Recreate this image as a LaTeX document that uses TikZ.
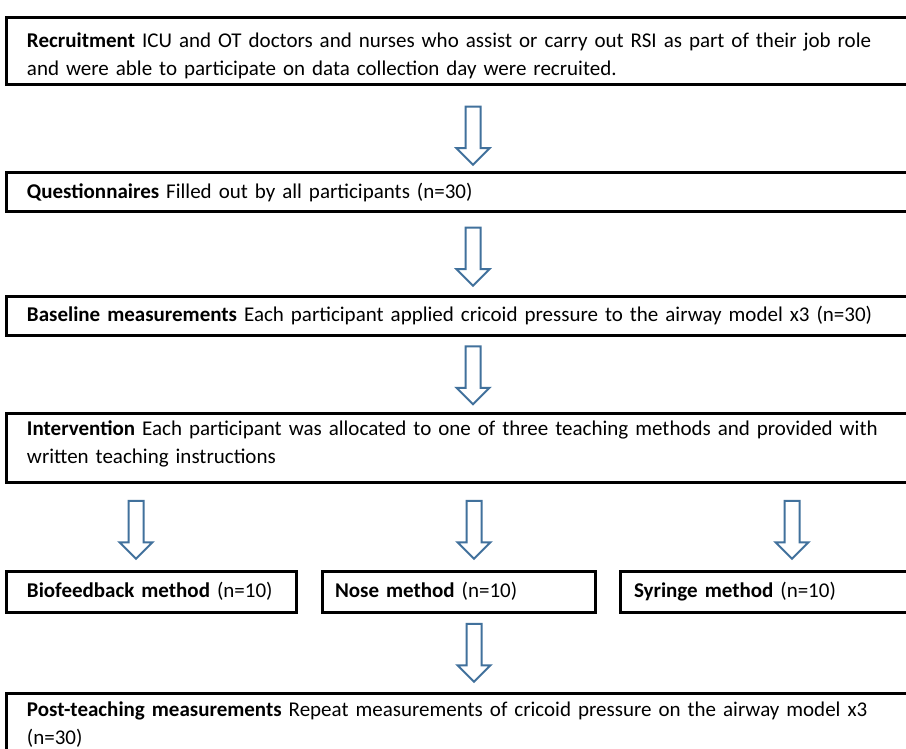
\documentclass[tikz,border=0pt]{standalone}
\usepackage{fontspec}
\setmainfont{Carlito}
\usetikzlibrary{shapes.arrows}
\definecolor{arrowblue}{HTML}{41719C}
\begin{document}
\begin{tikzpicture}[x=1pt,y=-1pt,
  box/.style={draw=black, line width=3pt, fill=white, anchor=north west, align=left,
    inner ysep=0pt, font=\fontsize{21}{28}\selectfont},
  barrow/.style={single arrow, draw=arrowblue, fill=white, line width=2pt, rotate=-90,
    minimum height=58pt, text height=0pt, text depth=0pt, inner xsep=0pt, inner ysep=6.5pt,
    single arrow head extend=9pt}]
\useasboundingbox (0,0) rectangle (906,749);
\fill[white] (0,0) rectangle (906,749);
\begin{scope}
\clip (0,0) rectangle (906,749);
\node[box, inner xsep=20.5pt, minimum width=910pt, minimum height=67pt, text width=869pt] (b1) at (5,16.5)
  {\rule{0pt}{23pt}\textbf{Recruitment} ICU and OT doctors and nurses who assist or carry out RSI as part of their job role\\
   and were able to participate on data collection day were recruited.};
\node[box, inner xsep=20.5pt, minimum width=910pt, minimum height=39pt, text width=869pt] (b2) at (5,171.5)
  {\textbf{Questionnaires} Filled out by all participants (n=30)};
\node[box, inner xsep=20.5pt, minimum width=910pt, minimum height=39pt, text width=869pt] (b3) at (5,294.5)
  {\textbf{Baseline measurements} Each participant applied cricoid pressure to the airway model x3 (n=30)};
\node[box, inner xsep=20.5pt, minimum width=910pt, minimum height=69pt, text width=869pt] (b4) at (5,411.5)
  {\textbf{Intervention} Each participant was allocated to one of three teaching methods and provided with\\
   written teaching instructions\rule[-10pt]{0pt}{1pt}};
\node[box, inner xsep=20.5pt, minimum width=290pt, minimum height=41pt, text width=249pt] (b5) at (5,569.5)
  {\textbf{Biofeedback method} (n=10)};
\node[box, inner xsep=13pt, minimum width=273pt, minimum height=41pt, text width=247pt] (b6) at (320.5,569.5)
  {\textbf{Nose method} (n=10)};
\node[box, inner xsep=14pt, minimum width=297pt, minimum height=41pt, text width=269pt] (b7) at (618.5,569.5)
  {\textbf{Syringe method} (n=10)};
\node[box, inner xsep=20.5pt, minimum width=910pt, minimum height=63pt, text width=869pt] (b8) at (5,691.5)
  {\textbf{Post-teaching measurements} Repeat measurements of cricoid pressure on the airway model x3\\
   (n=30)};
\node[barrow] (a1) at (473,132) {};
\node[barrow] (a2) at (473,253) {};
\node[barrow] (a3) at (473,371.5) {};
\node[barrow] (a4) at (136,526) {};
\node[barrow] (a5) at (474,526) {};
\node[barrow] (a6) at (792,526) {};
\node[barrow] (a7) at (474,649) {};
\end{scope}
\end{tikzpicture}
\end{document}
